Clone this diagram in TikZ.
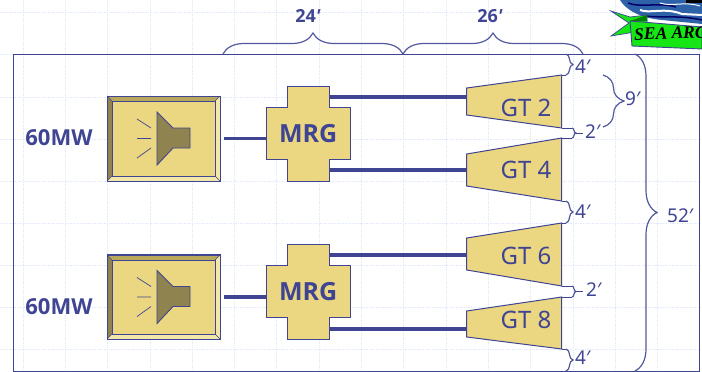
\documentclass[tikz,border=0pt]{standalone}
\usepackage{fontspec}
\setmainfont{Noto Sans}
\newfontfamily\heavyfont{Open Sans}
\newfontfamily\logofont{Liberation Serif}
\usetikzlibrary{decorations.pathreplacing, positioning, calc}
\definecolor{navy}{HTML}{3F4592}
\definecolor{sand}{HTML}{EBD681}
\definecolor{olive}{HTML}{8F8350}
\definecolor{bevelhi}{HTML}{F2E6A8}
\definecolor{bevelmid}{HTML}{B8A85C}
\definecolor{griddot}{HTML}{E2E9FB}
\definecolor{logogreen}{HTML}{16E516}
\definecolor{logoblue}{HTML}{2E62A8}

\begin{document}
\begin{tikzpicture}[
    x=1pt, y=-1pt,
    shaft/.style={draw=navy, line width=3.6pt},
    outline/.style={draw=navy, line width=1pt, fill=sand},
    rated/.style={text=navy, font=\heavyfont\bfseries\fontsize{22}{22}\selectfont, inner sep=0pt},
    mrgbox/.style={text=navy, font=\heavyfont\bfseries\fontsize{25}{25}\selectfont, inner sep=0pt, minimum width=85pt, minimum height=95pt},
    gtname/.style={text=navy, font=\fontsize{24}{24}\selectfont, inner sep=0pt},
    dimtext/.style={text=navy, font=\fontsize{19}{19}\selectfont, inner sep=0pt},
    dimbold/.style={text=navy, font=\heavyfont\bfseries\fontsize{18}{18}\selectfont, inner sep=0pt},
    boiler/.style={draw=navy, line width=1pt, fill=sand, inner sep=0pt, minimum width=113pt, minimum height=85pt},
    dimbrace/.style={draw=navy!90!white, line width=1.2pt, decorate, decoration={brace, amplitude=#1}},
    dimbrace/.default=5pt,
    ext/.style={draw=navy, line width=0.8pt}
]
\useasboundingbox (0,0) rectangle (702,372);
\clip (0,0) rectangle (702,372);

% Background grid
\foreach \gx in {0,...,16} \draw[griddot, densely dotted, line width=0.7pt] (23+42.3*\gx,0) -- (23+42.3*\gx,372);
\foreach \gy in {0,...,8} \draw[griddot, densely dotted, line width=0.7pt] (0,12.7+42.1*\gy) -- (702,12.7+42.1*\gy);

% Logo
\fill[logoblue] (620,0) .. controls (626,10) and (640,18) .. (662,20) -- (702,24) -- (702,0) -- cycle;
\draw[blue!40!black, line width=1.5pt] (628,3) .. controls (640,8) and (660,2) .. (676,7);
\draw[white, line width=2pt] (640,10) .. controls (650,14) and (664,7) .. (682,14) -- (702,15);
\draw[white, line width=1pt] (660,3) .. controls (672,7) and (684,1) .. (700,6);
\draw[blue!40!black, line width=1.5pt] (646,16) .. controls (660,18) and (680,15) .. (702,20);
\fill[black] (686,0) rectangle (702,3);
\fill[logogreen, draw=navy, line width=0.7pt] (611,11) -- (630,17) -- (647,15) -- (647,28) -- (629,33) -- (611,36) -- (629,23) -- cycle;
\fill[green!50!black] (630,21) -- (647,15) -- (647,21) -- cycle;
\fill[logogreen, draw=navy, line width=0.9pt] (630,21) -- (702,27) -- (702,49) -- (632,46) -- cycle;
\node[anchor=west, inner sep=0pt, font=\logofont\bfseries\itshape\fontsize{17.5}{17.5}\selectfont, rotate=2] (logotext) at (634,34.5) {SEA ARC};

% Frame
\draw[navy, line width=1pt] (13,54) rectangle (699,371);

% Boilers
\foreach \bname/\cy/\ytop/\ybot in {boilerA/138.5/96/181, boilerB/297/255/339} {
  \node[boiler] (\bname) at (163.5,\cy) {};
  \fill[olive] (107,\ytop) -- (112,\ytop+5) -- (112,\ybot-5) -- (107,\ybot) -- cycle;
  \fill[bevelmid] (107,\ytop) -- (220,\ytop) -- (215,\ytop+5) -- (112,\ytop+5) -- cycle;
  \fill[bevelhi] (220,\ytop) -- (220,\ybot) -- (215,\ybot-5) -- (215,\ytop+5) -- cycle;
  \fill[bevelhi] (107,\ybot) -- (220,\ybot) -- (215,\ybot-5) -- (112,\ybot-5) -- cycle;
  \draw[navy, line width=0.9pt] (107,\ytop) rectangle (220,\ybot);
  \draw[navy, line width=0.9pt] (112,\ytop+5) rectangle (215,\ybot-5);
  \draw[navy, line width=0.6pt] (107,\ytop) -- (112,\ytop+5) (220,\ytop) -- (215,\ytop+5) (107,\ybot) -- (112,\ybot-5) (220,\ybot) -- (215,\ybot-5);
  % Speaker
  \draw[navy, line width=0.9pt, fill=olive] (157,\cy-26.5) -- (173,\cy-10.5) -- (190,\cy-10.5) -- (190,\cy+9.5) -- (173,\cy+9.5) -- (157,\cy+26.5) -- cycle;
  \draw[navy, line width=0.7pt] (137,\cy-19.5) -- (151,\cy-10.5) (137,\cy) -- (151,\cy) (137,\cy+19.5) -- (151,\cy+9.5);
}

% Gearboxes
\foreach \mname/\my in {mrgA/86, mrgB/244} {
  \draw[outline] (287,\my) -- (329,\my) -- (329,\my+21) -- (350.5,\my+21) -- (350.5,\my+73) -- (329,\my+73) -- (329,\my+95) -- (287,\my+95) -- (287,\my+73) -- (266,\my+73) -- (266,\my+21) -- (287,\my+21) -- cycle;
}
\node[mrgbox] (mrgA) at (308.25,133.5) {MRG};
\node[mrgbox] (mrgB) at (308.25,291.5) {MRG};

% Gas turbines
\draw[outline] (466.7,88) -- (561.7,75) -- (561.7,128) -- (466.7,115) -- cycle;
\draw[outline] (466.7,154) -- (561.7,138) -- (561.7,201) -- (466.7,186) -- cycle;
\draw[outline] (466.7,238) -- (561.7,223) -- (561.7,286) -- (466.7,270) -- cycle;
\draw[outline] (466.7,311) -- (561.7,297) -- (561.7,349) -- (466.7,337) -- cycle;
\node[gtname] (gtTwo) at (526,108) {GT 2};
\node[gtname] (gtFour) at (526,170) {GT 4};
\node[gtname] (gtSix) at (526,256) {GT 6};
\node[gtname] (gtEight) at (526,320) {GT 8};

% Labels
\node[rated] (powerA) at (59,138) {60MW};
\node[rated] (powerB) at (59,307) {60MW};

% Shafts
\coordinate (inGtTwo) at (466.7,97);
\coordinate (inGtFour) at (466.7,170);
\coordinate (inGtSix) at (466.7,255);
\coordinate (inGtEight) at (466.7,329);
\draw[shaft] ([xshift=3pt]boilerA.east) -- (mrgA.west |- boilerA.east);
\draw[shaft] ([xshift=3pt]boilerB.east) -- (mrgB.west |- boilerB.east);
\draw[shaft] (329,97) -- (inGtTwo);
\draw[shaft] (329,170) -- (inGtFour);
\draw[shaft] (329,255) -- (inGtSix);
\draw[shaft] (329,329) -- (inGtEight);

% Clearance ticks
\draw[ext] (561.7,75) -- (566,75) (561.7,128) -- (572,128) (561.7,138) -- (572,138);
\draw[ext] (561.7,201) -- (566,201) (561.7,223) -- (566,223);
\draw[ext] (561.7,286) -- (572,286) (561.7,297) -- (572,297);
\draw[ext] (561.7,349) -- (566,349);

% Top dimensions
\coordinate (dimA) at (223,54);
\coordinate (dimB) at (403,54);
\coordinate (dimC) at (583,54);
\draw[dimbrace=21pt] (dimA) -- (dimB);
\draw[dimbrace=21pt] (dimB) -- (dimC);
\node[dimbold] (lenA) at (308,16) {24{\itshape ′}};
\node[dimbold] (lenB) at (490,16) {26{\itshape ′}};

% Side dimensions
\coordinate (gapTopA) at (566,54);
\coordinate (gapTopB) at (566,75);
\coordinate (gapMidA) at (566,201);
\coordinate (gapMidB) at (566,223);
\coordinate (gapEndA) at (566,349);
\coordinate (gapEndB) at (566,371);
\draw[dimbrace=7pt] (gapTopA) -- (gapTopB);
\draw[dimbrace=7pt] (gapMidA) -- (gapMidB);
\draw[dimbrace=7pt] (gapEndA) -- (gapEndB);
\draw[dimbrace=4pt] (572,128) -- (572,138);
\draw[dimbrace=4pt] (572,286) -- (572,297);
\draw[draw=navy, line width=1pt] (576,133) -- (583,133) (576,291.5) -- (583,291.5);
\node[dimtext, anchor=west] (clrA) at (575,67) {4′};
\node[dimtext, anchor=west] (clrB) at (585,132) {2′};
\node[dimtext, anchor=west] (clrC) at (575,212) {4′};
\node[dimtext, anchor=west] (clrD) at (586,290) {2′};
\node[dimtext, anchor=west] (clrE) at (575,358) {4′};

\draw[dimbrace=21pt] (603,75) -- (603,127);
\node[dimtext, anchor=west] (spanA) at (625,99) {9′};
\draw[dimbrace=22pt] (635,54) -- (635,371);
\node[dimtext, anchor=west] (spanB) at (667,216) {52′};
\end{tikzpicture}
\end{document}
